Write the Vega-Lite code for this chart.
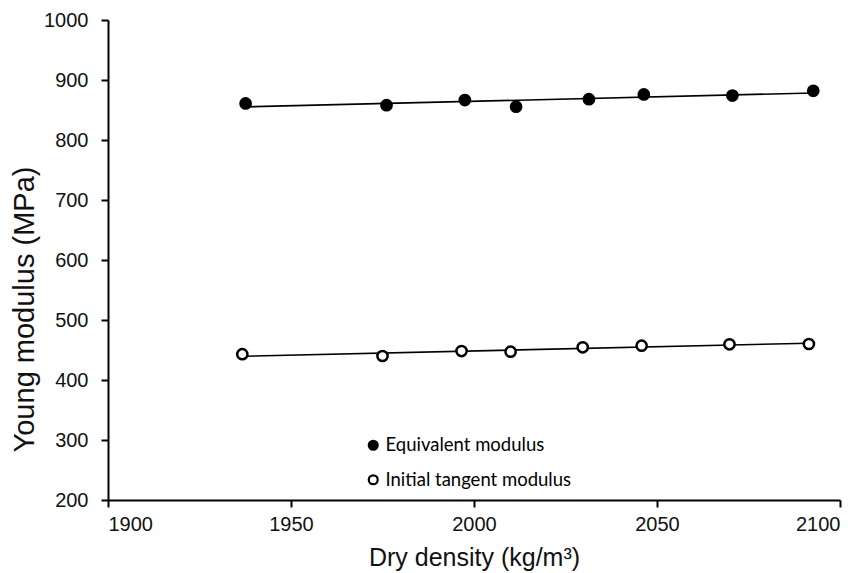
{
  "$schema": "https://vega.github.io/schema/vega-lite/v6.json",
  "width": 732,
  "height": 480,
  "autosize": {"type": "none"},
  "padding": {"left": 108, "top": 20, "right": 28, "bottom": 73},
  "background": "white",
  "config": {
    "view": {"stroke": null},
    "axis": {
      "grid": false,
      "domainColor": "black",
      "domainWidth": 2,
      "tickColor": "black",
      "tickWidth": 2,
      "tickSize": 7,
      "labelFont": "Liberation Sans",
      "labelFontSize": 20,
      "labelColor": "#111",
      "titleFont": "Liberation Sans",
      "titleFontWeight": "normal",
      "titleColor": "#111"
    }
  },
  "data": {
    "values": [
      {"density": 1937.6, "modulus": 861, "series": "Equivalent modulus"},
      {"density": 1976.1, "modulus": 858, "series": "Equivalent modulus"},
      {"density": 1997.5, "modulus": 866.5, "series": "Equivalent modulus"},
      {"density": 2011.5, "modulus": 855.5, "series": "Equivalent modulus"},
      {"density": 2031.4, "modulus": 868, "series": "Equivalent modulus"},
      {"density": 2046.4, "modulus": 876, "series": "Equivalent modulus"},
      {"density": 2070.6, "modulus": 874, "series": "Equivalent modulus"},
      {"density": 2092.7, "modulus": 882, "series": "Equivalent modulus"},
      {"density": 1936.7, "modulus": 443, "series": "Initial tangent modulus"},
      {"density": 1975.0, "modulus": 440, "series": "Initial tangent modulus"},
      {"density": 1996.6, "modulus": 448.3, "series": "Initial tangent modulus"},
      {"density": 2010.0, "modulus": 447.2, "series": "Initial tangent modulus"},
      {"density": 2029.7, "modulus": 454.4, "series": "Initial tangent modulus"},
      {"density": 2045.8, "modulus": 457.2, "series": "Initial tangent modulus"},
      {"density": 2069.8, "modulus": 459.4, "series": "Initial tangent modulus"},
      {"density": 2091.5, "modulus": 460, "series": "Initial tangent modulus"}
    ]
  },
  "encoding": {
    "x": {
      "field": "density",
      "type": "quantitative",
      "scale": {"domain": [1900, 2100], "nice": false, "zero": false},
      "axis": {
        "values": [1900, 1950, 2000, 2050, 2100],
        "format": "d",
        "title": "Dry density (kg/m³)",
        "titleFontSize": 25,
        "titleBaseline": "alphabetic",
        "titleX": 366,
        "titleY": 65,
        "labelPadding": 7
      }
    },
    "y": {
      "field": "modulus",
      "type": "quantitative",
      "scale": {"domain": [200, 1000], "nice": false, "zero": false},
      "axis": {
        "values": [200, 300, 400, 500, 600, 700, 800, 900, 1000],
        "format": "d",
        "title": "Young modulus (MPa)",
        "titleFontSize": 29,
        "titleAngle": -90,
        "titleAlign": "center",
        "titleBaseline": "alphabetic",
        "titleX": -75,
        "titleY": 289,
        "labelPadding": 13
      }
    }
  },
  "layer": [
    {
      "transform": [
        {"regression": "modulus", "on": "density", "groupby": ["series"]}
      ],
      "mark": {"type": "line", "color": "black", "strokeWidth": 1.6},
      "encoding": {"detail": {"field": "series"}}
    },
    {
      "mark": {"type": "point", "filled": false, "stroke": "black", "strokeWidth": 2.5, "opacity": 1, "size": 105},
      "encoding": {
        "fill": {
          "field": "series",
          "type": "nominal",
          "scale": {"domain": ["Equivalent modulus", "Initial tangent modulus"], "range": ["black", "white"]},
          "legend": {
            "title": null,
            "orient": "none",
            "legendX": 256,
            "legendY": 416,
            "padding": 0,
            "symbolType": "circle",
            "symbolSize": 80,
            "symbolStrokeColor": "black",
            "symbolStrokeWidth": 2.2,
            "symbolOpacity": 1,
            "labelFont": "Lato",
            "labelFontSize": 18.5,
            "labelColor": "black",
            "labelOffset": 3,
            "labelLimit": 400,
            "rowPadding": 15.5
          }
        }
      }
    }
  ]
}
